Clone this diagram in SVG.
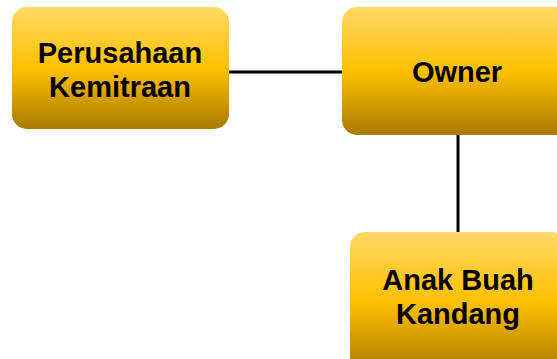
<svg xmlns="http://www.w3.org/2000/svg" width="557" height="359" viewBox="0 0 557 359">
<defs>
<linearGradient id="g" x1="0" y1="0" x2="0" y2="1">
<stop offset="0" stop-color="#FFD966"/>
<stop offset="0.5" stop-color="#FFC000"/>
<stop offset="1" stop-color="#A87A00"/>
</linearGradient>
</defs>
<style>
.box{fill:url(#g);}
.t{font-family:"Liberation Sans",Arial,sans-serif;font-weight:bold;font-size:29px;fill:#000;text-anchor:middle;}
.c{stroke:#000;stroke-width:3;fill:none;}
</style>
<rect width="557" height="359" fill="#fff"/>
<g id="connectors">
<line class="c" x1="229" y1="72" x2="342" y2="72"/>
<line class="c" x1="458" y1="135" x2="458" y2="232"/>
</g>
<g id="perusahaan">
<rect class="box" x="12" y="7" width="217" height="122" rx="15"/>
<text class="t" x="120" y="63">Perusahaan</text>
<text class="t" x="120" y="97">Kemitraan</text>
</g>
<g id="owner">
<rect class="box" x="342" y="7" width="230" height="128" rx="15"/>
<text class="t" x="457" y="82">Owner</text>
</g>
<g id="anak">
<rect class="box" x="350" y="232" width="216" height="140" rx="15"/>
<text class="t" x="458" y="290">Anak Buah</text>
<text class="t" x="458" y="324">Kandang</text>
</g>
</svg>
